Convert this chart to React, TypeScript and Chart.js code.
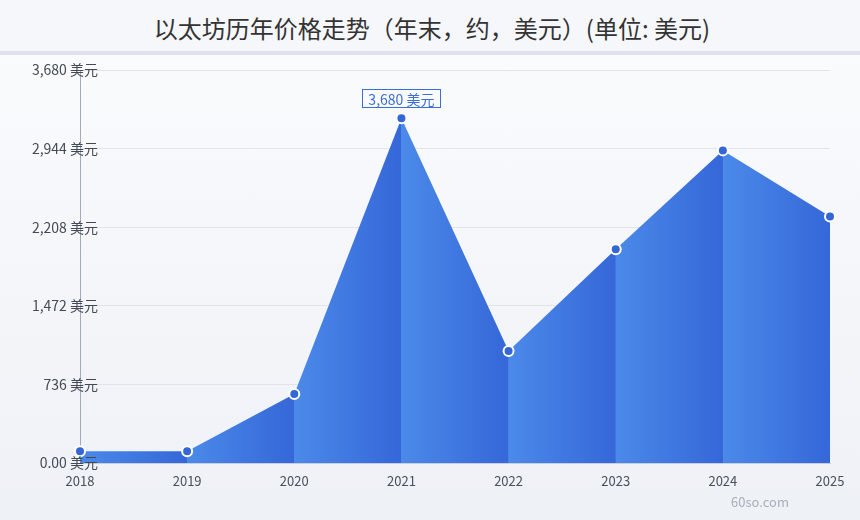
import React, { useEffect, useRef } from "react";
import { Chart, registerables } from "chart.js";

Chart.register(...registerables);

const TITLE = "以太坊历年价格走势（年末，约，美元）(单位: 美元)";
const YEARS = ["2018", "2019", "2020", "2021", "2022", "2023", "2024", "2025"];
const PRICES = [125, 125, 737, 3680, 1196, 2282, 3337, 2630];
const Y_TICK_LABELS = ["0.00 美元", "736 美元", "1,472 美元", "2,208 美元", "2,944 美元", "3,680 美元"];
const Y_MAX = 4195;
const PEAK_LABEL = "3,680 美元";
const WATERMARK = "60so.com";

const FONT = '"Noto Sans CJK SC", "Noto Sans", sans-serif';
const LIGHT = "#4b8ae9";
const DARK = "#3567d8";

const yLabelPlugin = {
  id: "yLabels",
  afterDraw(chart: any) {
    const ys = chart.scales.y;
    const ctx = chart.ctx;
    ctx.save();
    ctx.font = `14px ${FONT}`;
    ctx.fillStyle = "#444a55";
    ctx.textAlign = "right";
    ctx.textBaseline = "middle";
    const n = Y_TICK_LABELS.length - 1;
    Y_TICK_LABELS.forEach((lab, i) => {
      const y = ys.getPixelForValue((i * Y_MAX) / n);
      ctx.fillText(lab, ys.right + 18, y);
    });
    ctx.restore();
  },
};

const peakPlugin = {
  id: "peakLabel",
  afterDatasetsDraw(chart: any) {
    const meta = chart.getDatasetMeta(0);
    let maxI = 0;
    PRICES.forEach((v, i) => {
      if (v > PRICES[maxI]) maxI = i;
    });
    const pt = meta.data[maxI];
    if (!pt) return;
    const ctx = chart.ctx;
    ctx.save();
    ctx.font = `14px ${FONT}`;
    const w = ctx.measureText(PEAK_LABEL).width + 12;
    const h = 18;
    const cx = pt.x;
    const cy = pt.y - 20;
    ctx.fillStyle = "rgba(250,251,254,0.95)";
    ctx.fillRect(Math.round(cx - w / 2) + 0.5, Math.round(cy - h / 2) + 0.5, Math.round(w), h);
    ctx.strokeStyle = "#3a6fd8";
    ctx.lineWidth = 1;
    ctx.strokeRect(Math.round(cx - w / 2) + 0.5, Math.round(cy - h / 2) + 0.5, Math.round(w), h);
    ctx.fillStyle = "#3a6fd8";
    ctx.textAlign = "center";
    ctx.textBaseline = "middle";
    ctx.fillText(PEAK_LABEL, cx, cy + 1);
    ctx.restore();
  },
};

export default function App() {
  const ref = useRef<HTMLCanvasElement>(null);

  useEffect(() => {
    document.body.style.margin = "0";
    const canvas = ref.current;
    if (!canvas) return;

    const fillFn = (context: any) => {
      const chart = context.chart;
      const area = chart.chartArea;
      const xs = chart.scales.x;
      if (!area || !xs) return LIGHT;
      const g = chart.ctx.createLinearGradient(area.left, 0, area.right, 0);
      const width = area.right - area.left;
      for (let i = 0; i < YEARS.length - 1; i++) {
        const a = (xs.getPixelForValue(i) - area.left) / width;
        const b = (xs.getPixelForValue(i + 1) - area.left) / width;
        g.addColorStop(Math.min(Math.max(a, 0), 1), LIGHT);
        g.addColorStop(Math.min(Math.max(b - 0.0005, 0), 1), DARK);
      }
      return g;
    };

    const chart = new Chart(canvas, {
      type: "line",
      data: {
        labels: YEARS,
        datasets: [
          {
            data: PRICES,
            fill: "origin",
            backgroundColor: fillFn,
            borderColor: "rgba(0,0,0,0)",
            borderWidth: 0,
            tension: 0,
            pointRadius: 5,
            pointHoverRadius: 5,
            pointBackgroundColor: "#3466d6",
            pointBorderColor: "#ffffff",
            pointBorderWidth: 2,
          },
        ],
      },
      options: {
        animation: false,
        responsive: false,
        maintainAspectRatio: false,
        layout: { padding: { left: 0, right: 30, top: 15, bottom: 0 } },
        plugins: {
          legend: { display: false },
          tooltip: { enabled: false },
          title: { display: false },
        },
        scales: {
          x: {
            offset: false,
            grid: { display: false, drawTicks: false },
            border: { display: true, color: "#c9ced8" },
            ticks: {
              color: "#4a4f5a",
              font: { family: FONT, size: 13 },
              padding: 10,
              maxRotation: 0,
              autoSkip: false,
            },
            afterFit: (s: any) => {
              s.height = 57;
            },
          },
          y: {
            min: 0,
            max: Y_MAX,
            afterBuildTicks: (s: any) => {
              s.ticks = Y_TICK_LABELS.map((_, i) => ({ value: (i * Y_MAX) / (Y_TICK_LABELS.length - 1) }));
            },
            afterFit: (s: any) => {
              s.width = 80;
            },
            grid: { color: "#e0e4eb", drawTicks: false, lineWidth: 1 },
            border: { display: true, color: "#a3abba", width: 1 },
            ticks: { display: false },
          },
        },
      },
      plugins: [peakPlugin, yLabelPlugin],
    });
    return () => chart.destroy();
  }, []);

  return (
    <div
      style={{
        position: "absolute",
        left: 0,
        top: 0,
        width: 860,
        height: 520,
        background: "linear-gradient(#fbfcfd 0%, #f3f5f9 60%, #eef1f6 100%)",
        overflow: "hidden",
        fontFamily: FONT,
      }}
    >
      <div
        style={{
          position: "absolute",
          left: 0,
          top: 0,
          width: 860,
          height: 51,
          background: "#f6f7fa",
          borderBottom: "4px solid #dfe2ea",
          display: "flex",
          alignItems: "center",
          justifyContent: "center",
          color: "#333333",
          fontSize: 24,
          lineHeight: "51px",
        }}
      >
        <span style={{ position: "relative", top: 2, left: 2 }}>{TITLE}</span>
      </div>
      <canvas
        ref={ref}
        width={860}
        height={465}
        style={{ position: "absolute", left: 0, top: 55, width: 860, height: 465 }}
      />
      <div
        style={{
          position: "absolute",
          left: 731,
          top: 493,
          color: "#a9aeb8",
          fontSize: 13,
          lineHeight: "18px",
        }}
      >
        {WATERMARK}
      </div>
    </div>
  );
}
